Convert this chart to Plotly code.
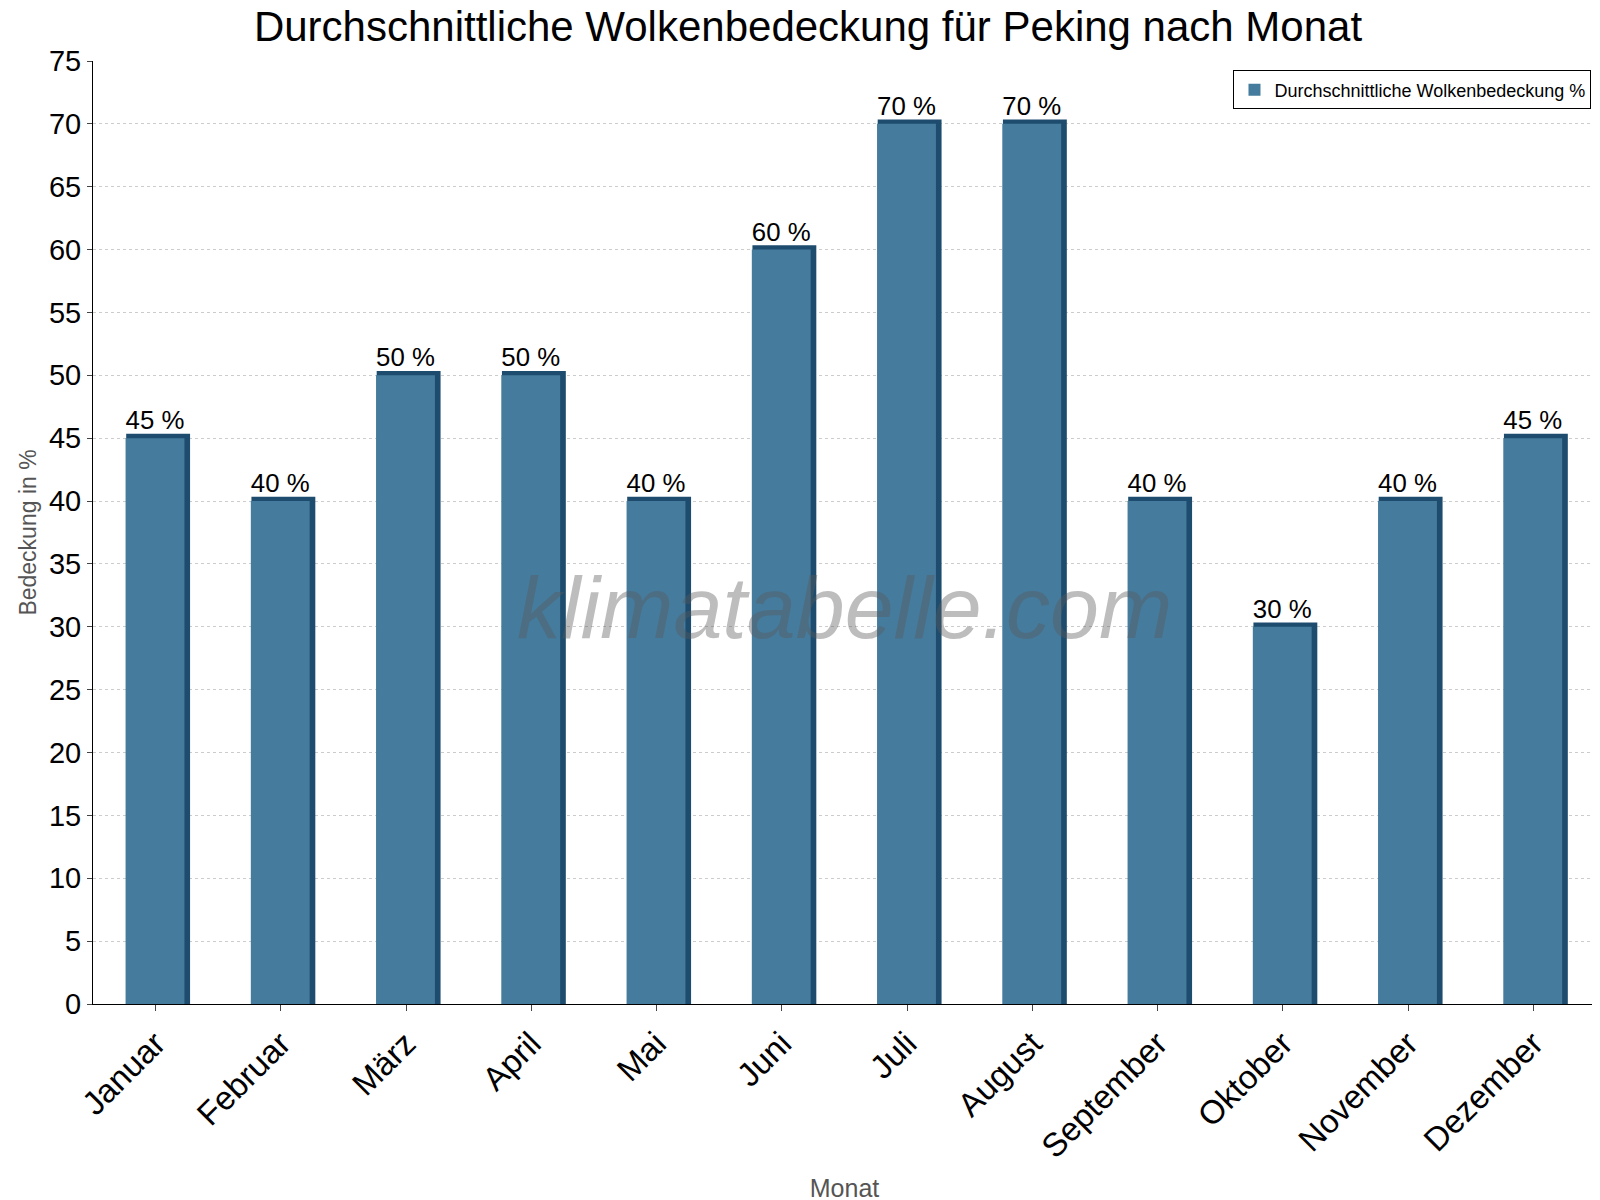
import plotly.graph_objects as go

months = ["Januar","Februar","März","April","Mai","Juni","Juli","August","September","Oktober","November","Dezember"]
values = [45,40,50,50,40,60,70,70,40,30,40,45]
labels = [f"{v} %" for v in values]

fig = go.Figure()
fig.add_trace(go.Bar(x=months, y=[v+0.35 for v in values], width=0.51, offset=-0.235,
                     marker=dict(color="#1d4c6e", line=dict(width=0)), showlegend=False, hoverinfo="skip"))
fig.add_trace(go.Bar(x=months, y=values, width=0.47, offset=-0.24, name="Durchschnittliche Wolkenbedeckung %",
                     marker=dict(color="#457b9d", line=dict(width=0)),
                     text=labels, textposition="outside", cliponaxis=False,
                     textfont=dict(size=31, color="black", family="Liberation Sans")))
fig.update_layout(
    width=1600, height=1200, barmode="overlay", plot_bgcolor="white", paper_bgcolor="white",
    margin=dict(l=85, r=11, t=53, b=202),
    title=dict(text="Durchschnittliche Wolkenbedeckung für Peking nach Monat", x=0.5, y=0.997, yanchor="top",
               font=dict(size=42, color="black", family="Liberation Sans")),
    font=dict(family="Liberation Sans"),
    legend=dict(x=0.997, y=0.99, xanchor="right", yanchor="top", bordercolor="black", borderwidth=1,
                font=dict(size=18, color="black"), bgcolor="white"),
    xaxis=dict(tickangle=-45, tickfont=dict(size=33, color="black"), showline=True, linecolor="black",
               ticks="outside", ticklen=6,
               title=dict(text="Monat", font=dict(size=25, color="#555"))),
    yaxis=dict(range=[0,75], dtick=5, tickfont=dict(size=29, color="black"), showline=True, linecolor="black",
               ticks="outside", gridcolor="#cccccc", griddash="dot", mirror=True,
               title=dict(text="Bedeckung in %", font=dict(size=23, color="#555"), standoff=5)),
    annotations=[dict(text="<i>klimatabelle.com</i>", x=0.5, y=0.42, xref="paper", yref="paper", showarrow=False,
                      font=dict(size=88, color="rgba(90,90,90,0.4)", family="Liberation Sans"))],
)
fig.write_html("out.html")
